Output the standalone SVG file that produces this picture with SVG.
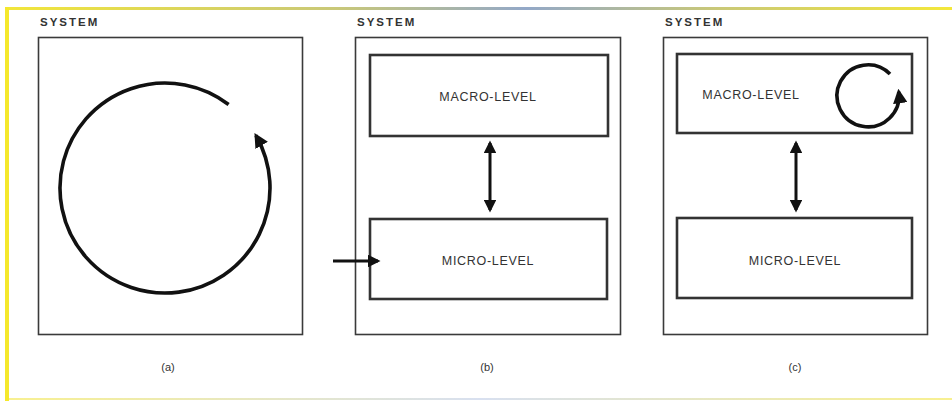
<svg xmlns="http://www.w3.org/2000/svg" width="952" height="401" viewBox="0 0 952 401">
  <defs>
    <linearGradient id="topEdge" x1="0" y1="0" x2="1" y2="0">
      <stop offset="0" stop-color="#f2e63a"/>
      <stop offset="0.35" stop-color="#c9c878"/>
      <stop offset="0.55" stop-color="#93a8c8"/>
      <stop offset="0.75" stop-color="#c9c878"/>
      <stop offset="1" stop-color="#f4e83a"/>
    </linearGradient>
    <linearGradient id="bottomEdge" x1="0" y1="0" x2="1" y2="0">
      <stop offset="0" stop-color="#f8f090"/>
      <stop offset="0.5" stop-color="#d8e0f0"/>
      <stop offset="1" stop-color="#f8f090"/>
    </linearGradient>
    <marker id="head" viewBox="0 0 10 10" refX="8" refY="5" markerWidth="4.2" markerHeight="4.2" orient="auto-start-reverse" markerUnits="strokeWidth">
      <path d="M0,0 L10,5 L0,10 Z" fill="#111"/>
    </marker>
    <marker id="headBig" viewBox="0 0 10 10" refX="8" refY="5" markerWidth="4" markerHeight="4" orient="auto" markerUnits="strokeWidth">
      <path d="M0,0 L10,5 L0,10 Z" fill="#111"/>
    </marker>
    <style>
      .sys { fill: none; stroke: #3a3a3a; stroke-width: 1.6; }
      .lvl { fill: #fff; stroke: #333; stroke-width: 2.6; }
      .cap { font-family: "Liberation Sans", Arial, sans-serif; font-size: 11.5px; font-weight: bold; fill: #333; letter-spacing: 2px; }
      .lab { font-family: "Liberation Sans", Arial, sans-serif; font-size: 12.5px; fill: #333; letter-spacing: 0.7px; text-anchor: middle; }
      .sub { font-family: "Liberation Sans", Arial, sans-serif; font-size: 11px; fill: #333; text-anchor: middle; }
      .loop { fill: none; stroke: #111; stroke-width: 3.6; }
      .link { fill: none; stroke: #111; stroke-width: 3; }
    </style>
  </defs>

  <rect width="952" height="401" fill="#fff"/>

  <!-- page frame -->
  <rect x="5" y="7" width="947" height="3" fill="url(#topEdge)"/>
  <rect x="5" y="7" width="4" height="394" fill="#f5e82c"/>
  <rect x="9" y="398" width="943" height="2" fill="url(#bottomEdge)"/>

  <!-- (a) whole system loop -->
  <g id="system-a">
    <text class="cap" x="40" y="26">SYSTEM</text>
    <rect class="sys" x="38.5" y="37.5" width="264" height="297"/>
    <path class="loop" marker-end="url(#headBig)" d="M228.6,104.5 A105,105 0 1 0 255.9,135.5"/>
    <text class="sub" x="168" y="371">(a)</text>
  </g>

  <!-- (b) macro / micro levels with outside input -->
  <g id="system-b">
    <text class="cap" x="357" y="26">SYSTEM</text>
    <rect class="sys" x="355.5" y="37.5" width="265" height="297"/>
    <text class="sub" x="487" y="371">(b)</text>
  </g>
  <g id="macro-b">
    <rect class="lvl" x="370" y="55" width="238" height="81"/>
    <text class="lab" x="488" y="101">MACRO-LEVEL</text>
  </g>
  <g id="micro-b">
    <rect class="lvl" x="370" y="219" width="237" height="80"/>
    <text class="lab" x="488" y="265">MICRO-LEVEL</text>
  </g>

  <!-- (c) macro level with its own loop -->
  <g id="system-c">
    <text class="cap" x="665" y="26">SYSTEM</text>
    <rect class="sys" x="663.5" y="37.5" width="264" height="297"/>
    <text class="sub" x="795" y="371">(c)</text>
  </g>
  <g id="macro-c">
    <rect class="lvl" x="677" y="54" width="235" height="79"/>
    <text class="lab" x="751" y="99">MACRO-LEVEL</text>
    <path class="loop" marker-end="url(#headBig)" d="M890,74 A31,31 0 1 0 898.7,91.7"/>
  </g>
  <g id="micro-c">
    <rect class="lvl" x="677" y="218" width="235" height="80"/>
    <text class="lab" x="795" y="265">MICRO-LEVEL</text>
  </g>

  <!-- connectors -->
  <g id="connectors">
    <line class="link" x1="490" y1="143" x2="490" y2="210" marker-start="url(#head)" marker-end="url(#head)"/>
    <line class="link" x1="796" y1="143" x2="796" y2="210" marker-start="url(#head)" marker-end="url(#head)"/>
    <line class="link" x1="333" y1="261" x2="378" y2="261" marker-end="url(#head)"/>
  </g>
</svg>
